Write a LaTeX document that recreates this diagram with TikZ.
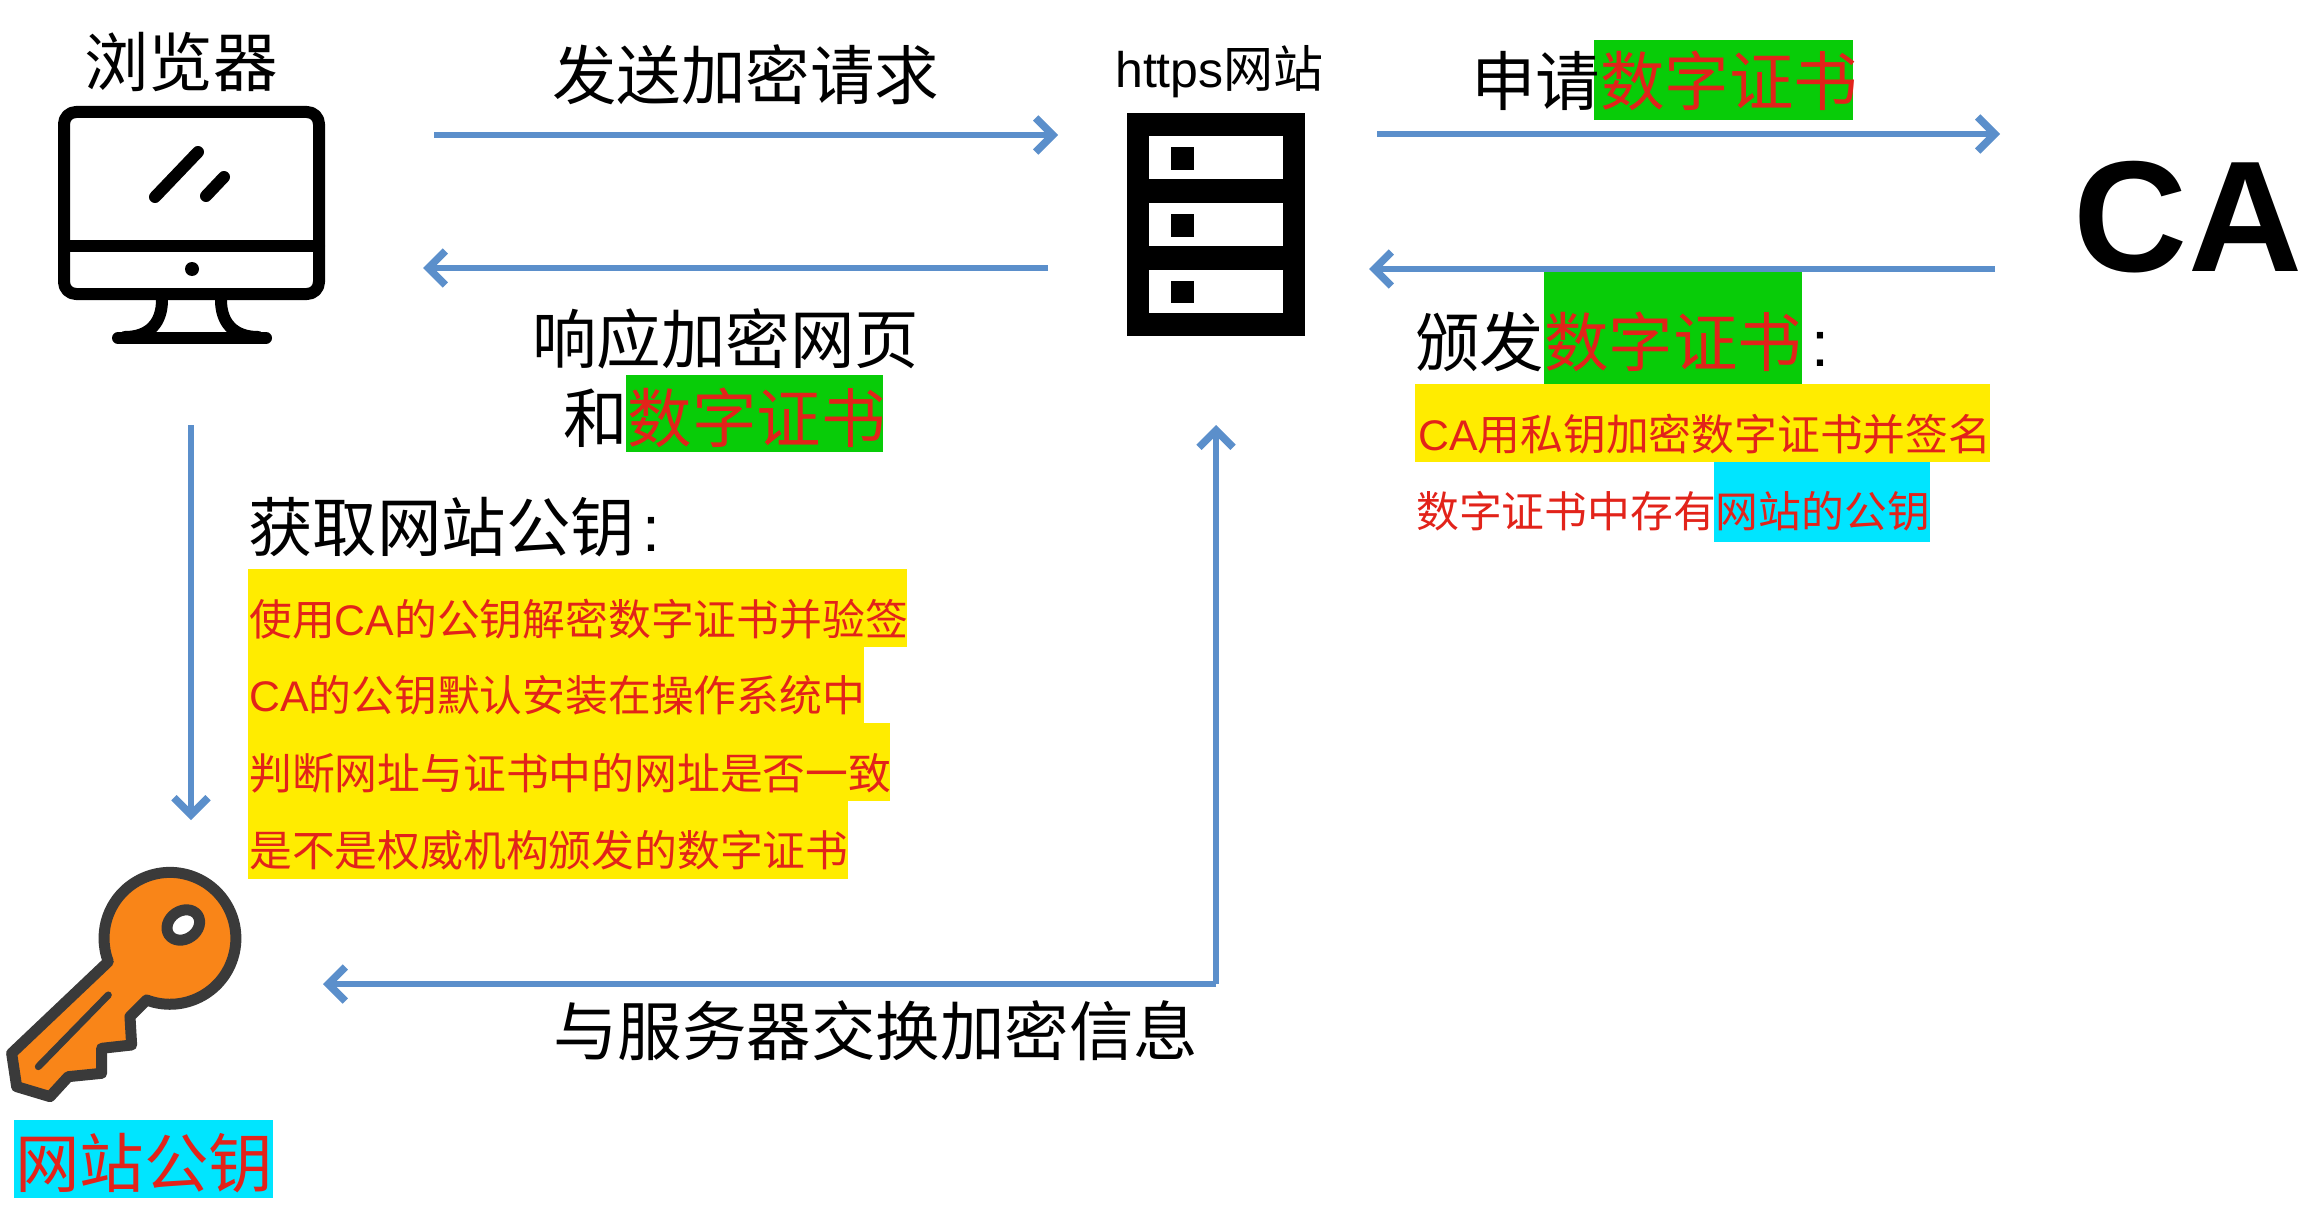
\documentclass[tikz,border=0pt]{standalone}
\usepackage{fontspec}
\setmainfont{Liberation Sans}
\newfontfamily\cjk{Noto Sans CJK SC}
\usetikzlibrary{arrows.meta}
\definecolor{flow}{HTML}{5B8FCB}
\definecolor{hlgreen}{HTML}{08CC08}
\definecolor{hlyellow}{HTML}{FFEC00}
\definecolor{hlcyan}{HTML}{00E5FF}
\definecolor{txtred}{HTML}{E2231A}
\definecolor{keyorange}{HTML}{F98518}
\definecolor{keydark}{HTML}{3A3A3A}
\newcommand{\rd}[1]{\textcolor{txtred}{#1}}
\newcommand{\la}[1]{{\rmfamily #1}}
\tikzset{
  flowline/.style={draw=flow,line width=6.5pt,-{Straight Barb[length=17pt,width=34pt,line width=7.5pt]}},
  big/.style={inner sep=0pt,anchor=base west,font=\fontsize{64.5}{64.5}\selectfont\cjk},
  small/.style={inner sep=0pt,anchor=base west,font=\fontsize{42.8}{42.8}\selectfont\cjk,text=txtred},
  iconbox/.style={inner sep=0pt,draw=none,fill=none}
}
\begin{document}
\begin{tikzpicture}[x=1pt,y=-1pt]
\useasboundingbox (0,0) rectangle (2304,1209);
\fill[white] (0,0) rectangle (2304,1209);

% highlights
\fill[hlgreen] (1594,40) rectangle (1853,120);
\fill[hlgreen] (1544,272) rectangle (1802,384);
\fill[hlgreen] (626,375) rectangle (883,452);
\fill[hlyellow] (1415,384) rectangle (1990,462);
\fill[hlcyan] (1714,462) rectangle (1930,542);
\fill[hlyellow] (248,569) rectangle (907,647);
\fill[hlyellow] (248,647) rectangle (864,723);
\fill[hlyellow] (248,723) rectangle (890,801);
\fill[hlyellow] (248,801) rectangle (848,879);
\fill[hlcyan] (14,1120) rectangle (273,1198);

% browser icon
\node[iconbox,minimum width=268pt,minimum height=238pt] (browser) at (192,225) {};
\begin{scope}[line width=12pt,line cap=round,line join=round,draw=black]
  \draw[rounded corners=12pt] (64,112) rectangle (319,294);
  \draw (64,246) -- (319,246);
  \draw (155,197) -- (198,152);
  \draw (206,196) -- (224,177);
  \draw (162,300) .. controls (162,322) and (150,337) .. (125,337);
  \draw (221,300) .. controls (221,322) and (233,337) .. (258,337);
  \draw (118,338) -- (266,338);
\end{scope}
\fill[black] (192,269) circle (7pt);

% server icon
\fill[black] (1127,113) rectangle (1305,336);
\fill[white] (1149,136) rectangle (1283,179);
\fill[white] (1149,203) rectangle (1283,246);
\fill[white] (1149,270) rectangle (1283,313);
\fill[black] (1171,147) rectangle (1194,170);
\fill[black] (1171,214) rectangle (1194,237);
\fill[black] (1171,281) rectangle (1194,303);
\node[iconbox,minimum width=178pt,minimum height=223pt] (server) at (1216,224.5) {};

% key icon
\begin{scope}[shift={(0,840)},x=0.3333pt,y=-0.3333pt,line join=round,line cap=round]
  \filldraw[fill=keyorange,draw=keydark,line width=11pt]
    (325,365) -- (35,640) -- (50,740) -- (150,770) -- (205,710) -- (305,700) -- (305,625)
    -- (395,615) -- (390,530) -- (440,480)
    arc[start angle=110.7,end angle=-200.7,radius=197.8] -- cycle;
  \draw[draw=keydark,line width=7pt] (325,465) -- (115,680);
  \filldraw[fill=white,draw=keydark,line width=11pt,rotate around={35:(550,255)}]
    (550,255) ellipse[x radius=52,y radius=42];
\end{scope}

% CA
\node[inner sep=0pt,font=\fontsize{158}{158}\selectfont\bfseries] (ca) at (2188,217) {CA};

% texts
\node[big] (tbrowser) at (84,87) {浏览器};
\node[big] (tsend) at (552,100) {发送加密请求};
\node[inner sep=0pt,anchor=base west,font=\fontsize{50}{50}\selectfont] (tserver) at (1115,88) {https{\cjk 网站}};
\node[big] (tapply) at (1471,106) {申请\rd{数字证书}};
\node[big] (tissue) at (1415,366) {颁发\rd{数字证书}\hspace{9pt}\la{:}};
\node[small] (tca1) at (1418,450) {\la{CA}用私钥加密数字证书并签名};
\node[small] (tca2) at (1416,527) {数字证书中存有网站的公钥};
\node[big] (tresp1) at (532,363) {响应加密网页};
\node[big] (tresp2) at (563,442) {和\rd{数字证书}};
\node[big] (tget) at (248,551) {获取网站公钥\hspace{7pt}\la{:}};
\node[small] (tv1) at (249,635) {使用\la{CA}的公钥解密数字证书并验签};
\node[small] (tv2) at (249,711) {\la{CA}的公钥默认安装在操作系统中};
\node[small] (tv3) at (249,789) {判断网址与证书中的网址是否一致};
\node[small] (tv4) at (249,866) {是不是权威机构颁发的数字证书};
\node[big,text=txtred] (tpub) at (15,1187) {网站公钥};
\node[big] (texch) at (553,1055) {与服务器交换加密信息};

% connector end points
\coordinate (a1) at (434,135);
\coordinate (a2) at (1058,135);
\coordinate (b1) at (1048,268);
\coordinate (b2) at (423,268);
\coordinate (c1) at (1377,134);
\coordinate (c2) at (2000,134);
\coordinate (d1) at (1995,269);
\coordinate (d2) at (1369,269);
\coordinate (e1) at (191,425);
\coordinate (e2) at (191,820);
\coordinate (f1) at (1216,984);
\coordinate (f2) at (1216,425);
\coordinate (g2) at (323,984);

\draw[flowline] (a1) -- (a2);
\draw[flowline] (b1) -- (b2);
\draw[flowline] (c1) -- (c2);
\draw[flowline] (d1) -- (d2);
\draw[flowline] (e1) -- (e2);
\draw[flowline] (f1) -- (f2);
\draw[flowline] (f1) -- (g2);
\end{tikzpicture}
\end{document}
